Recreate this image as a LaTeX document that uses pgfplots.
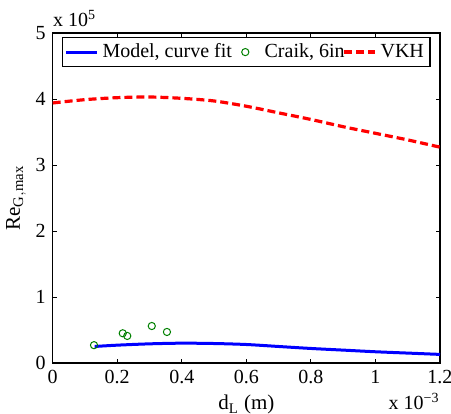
\documentclass[border=0pt]{standalone}
\usepackage{pgfplots}
\pgfplotsset{compat=1.18}
\usepackage{fontspec}
\setmainfont{Liberation Serif}
\definecolor{mgreen}{rgb}{0,0.5,0}
\pgfplotsset{
  linelegend/.style={legend image code/.code={\draw[##1] (0cm,0cm) -- (0.54cm,0cm);}},
  markleg/.style={legend image code/.code={\path[draw=none] (0cm,0cm) -- (0.54cm,0cm); \draw[##1, only marks] plot coordinates {(0.27cm,0cm)};}},
}
\begin{document}
\begin{tikzpicture}
\begin{axis}[name=ax, scale only axis,
  width=193.65pt, height=165pt,
  xmin=0, xmax=1.2, ymin=0, ymax=5,
  xtick={0,0.2,0.4,0.6,0.8,1,1.2},
  xticklabels={0,0.2,0.4,0.6,0.8,1,1.2},
  ytick={0,1,2,3,4,5},
  scaled ticks=false,
  /pgf/number format/assume math mode=true,
  tick align=inside, major tick length=2pt,
  tick style={black, line width=0.4pt},
  axis line style={line width=0.6pt},
  tick label style={font=\fontsize{10}{12}\selectfont},
  label style={font=\fontsize{10.5}{12}\selectfont},
  xlabel={d$_{\mathrm{L}}$ (m)},
  ylabel={Re$_{\mathrm{G,max}}$},
  xlabel style={yshift=1pt},
  ylabel style={yshift=-2pt},
  legend columns=3,
  legend style={at={(0.5,0.988)}, anchor=north, draw=black, line width=0.6pt,
    font=\fontsize{10}{11}\selectfont, inner sep=1pt,
    /tikz/every even column/.append style={column sep=-3pt}},
  clip=false,
]
\addplot[blue, line width=1.5pt, smooth, linelegend] coordinates {
  (0.13,0.25) (0.2,0.27) (0.3,0.29) (0.4,0.30) (0.5,0.295) (0.6,0.28)
  (0.7,0.25) (0.8,0.22) (0.9,0.195) (1.0,0.17) (1.1,0.15) (1.2,0.13)
};
\addlegendentry{Model, curve fit}
\addplot[mgreen, only marks, mark=o, mark size=1.8pt, line width=0.5pt, markleg] coordinates {
  (0.128,0.27) (0.217,0.45) (0.231,0.41) (0.307,0.56) (0.354,0.47)
};
\addlegendentry{Craik, 6in}
\addplot[red, line width=1.6pt, dash pattern=on 4pt off 2pt, smooth, linelegend] coordinates {
  (0,3.94) (0.1,3.99) (0.2,4.02) (0.3,4.03) (0.4,4.01) (0.5,3.97) (0.6,3.89)
  (0.7,3.79) (0.8,3.69) (0.9,3.58) (1.0,3.48) (1.1,3.38) (1.2,3.27)
};
\addlegendentry{VKH}
\node[anchor=south west, inner sep=0pt, font=\fontsize{10}{12}\selectfont]
  at (rel axis cs:0,1) [yshift=3pt] {x 10\textsuperscript{5}};
\node[anchor=north east, inner sep=0pt, font=\fontsize{10}{12}\selectfont]
  at (rel axis cs:1,0) [yshift=-15pt] {x 10\textsuperscript{−3}};
\end{axis}
\pgfresetboundingbox
\path ([shift={(-26.35pt,-25.5pt)}]ax.south west) rectangle ([shift={(5.5pt,16.5pt)}]ax.north east);
\end{tikzpicture}
\end{document}
